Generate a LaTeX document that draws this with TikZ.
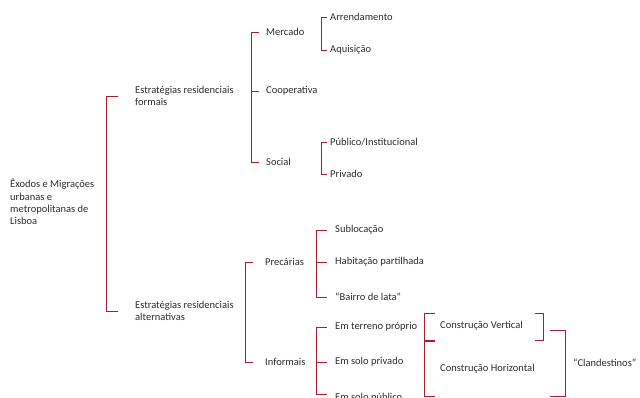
\documentclass[tikz,border=0pt]{standalone}
\usepackage{fontspec}
\setmainfont{Carlito}
\definecolor{br}{RGB}{170,30,45}
\definecolor{tx}{RGB}{45,45,45}
\begin{document}
\begin{tikzpicture}[x=1pt,y=-1pt,
 lbl/.style={anchor=west,inner sep=0pt,text=tx,font=\fontsize{10.5}{12.3}\selectfont,align=left},
 brk/.style={draw=br,line width=0.8pt}]
\useasboundingbox[fill=white] (0,0) rectangle (640,398);
% nodes
\node[lbl] (root) at (10,202) {Êxodos e Migrações\\urbanas e\\metropolitanas de\\Lisboa};
\node[lbl] (formais) at (135,96) {Estratégias residenciais\\formais};
\node[lbl] (altern) at (135,311) {Estratégias residenciais\\alternativas};
\node[lbl] (merc) at (266,32) {Mercado};
\node[lbl] (coop) at (266,91) {Cooperativa};
\node[lbl] (soc) at (266,162) {Social};
\node[lbl] (arr) at (330,17) {Arrendamento};
\node[lbl] (aq) at (330,50) {Aquisição};
\node[lbl] (pub) at (330,142) {Público/Institucional};
\node[lbl] (priv) at (330,174) {Privado};
\node[lbl] (prec) at (265,262) {Precárias};
\node[lbl] (inf) at (265,362) {Informais};
\node[lbl] (sub) at (335,230) {Sublocação};
\node[lbl] (hab) at (335,262) {Habitação partilhada};
\node[lbl] (bai) at (335,297) {“Bairro de lata”};
\node[lbl] (ter) at (335,327) {Em terreno próprio};
\node[lbl] (spr) at (335,362) {Em solo privado};
\node[lbl] (spu) at (335,398) {Em solo público};
\node[lbl] (cv) at (440,326) {Construção Vertical};
\node[lbl] (ch) at (440,369) {Construção Horizontal};
\node[lbl] (cl) at (573,363) {“Clandestinos”};
% brackets
\draw[brk] ([xshift=-17pt]formais.west) -- ++(-12,0) |- ([xshift=-17pt]altern.west);
\draw[brk] ([xshift=-7pt]merc.west) -- ++(-8,0) |- ([xshift=-7pt]soc.west);
\draw[brk] ([xshift=-7pt]coop.west) -- ++(-8,0);
\draw[brk] ([xshift=-3pt]arr.west) -- ++(-6,0) |- ([xshift=-3pt]aq.west);
\draw[brk] ([xshift=-3pt]pub.west) -- ++(-6,0) |- ([xshift=-3pt]priv.west);
\draw[brk] ([xshift=-12pt]prec.west) -- ++(-8,0) |- ([xshift=-12pt]inf.west);
\draw[brk] ([xshift=-8pt]sub.west) -- ++(-11,0) |- ([xshift=-8pt]bai.west);
\draw[brk] ([xshift=-8pt]hab.west) -- ++(-11,0);
\draw[brk] ([xshift=-8pt]ter.west) -- ++(-11,0) |- ([shift={(-8pt,4pt)}]spu.west);
\draw[brk] ([xshift=-8pt]spr.west) -- ++(-11,0);
\draw[brk] ([shift={(-5pt,13pt)}]cv.west) -- ++(-11,0) -- ++(0,27) -- ++(11,0);
\draw[brk] ([shift={(95pt,13pt)}]cv.west) -- ++(8,0) -- ++(0,27) -- ++(-8,0);
\draw[brk] ([shift={(-5pt,28pt)}]ch.west) -- ++(-11,0) -- ++(0,55) -- ++(11,0);
\draw[brk] ([shift={(-23pt,33pt)}]cl.west) -- ++(15,0) -- ++(0,66) -- ++(-15,0);
\end{tikzpicture}
\end{document}
